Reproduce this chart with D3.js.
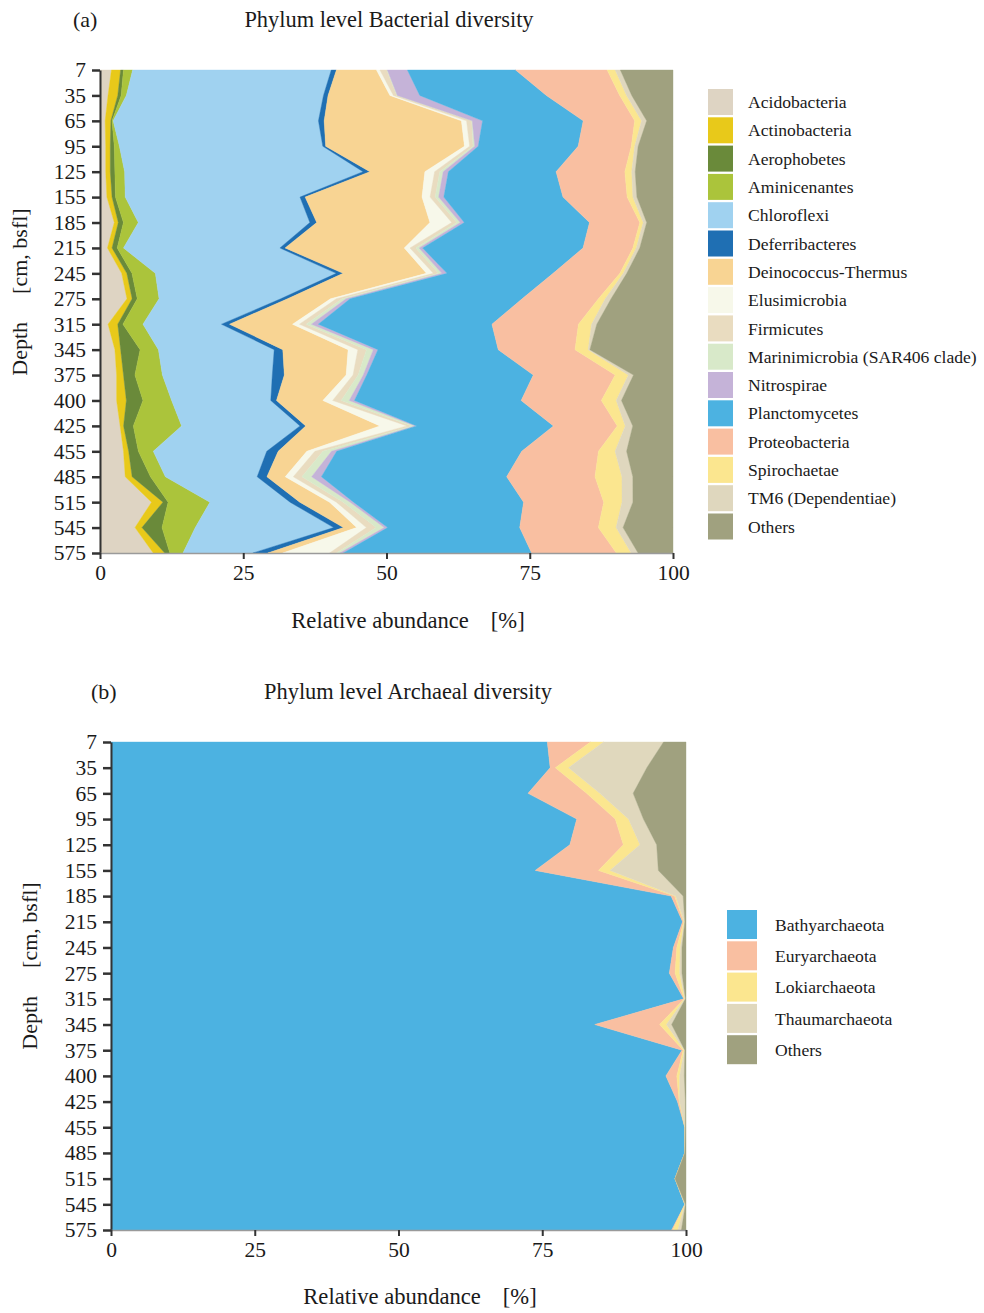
<!DOCTYPE html>
<html>
<head>
<meta charset="utf-8">
<script src="https://cdn.jsdelivr.net/npm/d3@7"></script>
<style>
  html, body { margin: 0; padding: 0; background: #ffffff; }
  svg { display: block; font-family: "Liberation Serif", "Times New Roman", serif; }
</style>
</head>
<body>
<svg id="fig" width="984" height="1313"></svg>
<script>
// Sampling depths (cm below seafloor)
const depths = ["7","35","65","95","125","155","185","215","245","275","315","345","375","400","425","455","485","515","545","575"];
const xTicks = [0, 25, 50, 75, 100];

// Bacterial phyla, relative abundance (%) per depth
const acidobacteria   = [2.0,1.4,0.9,1.0,1.0,1.2,2.5,1.3,3.8,4.7,1.4,2.6,2.9,2.9,3.5,4.1,4.4,9.0,6.1,9.3];
const actinobacteria  = [1.6,1.7,1.0,0.8,0.8,0.9,0.7,0.8,0.9,0.9,1.7,1.0,1.2,1.7,0.6,0.9,1.2,2.0,1.2,2.0];
const aerophobetes    = [0.5,0.6,0.2,0.7,0.8,0.6,0.9,0.9,0.9,0.9,0.9,3.4,2.0,2.9,1.7,1.7,3.2,0.9,3.5,0.9];
const aminicenantes   = [1.6,0.9,0.2,0.9,1.7,1.7,2.6,1.1,4.1,3.8,3.5,3.2,4.8,5.0,8.4,2.6,2.6,7.3,5.8,2.3];
const chloroflexi     = [34.7,34.4,35.9,35.6,41.6,30.5,30.0,27.3,31.7,21.2,13.7,20.2,19.2,17.3,20.6,19.8,16.0,14.0,24.1,12.2];
const deferribacteres = [0.9,0.8,1.0,0.5,1.2,0.9,1.2,0.9,1.2,1.2,1.4,1.5,2.1,1.0,1.0,2.0,1.7,1.7,1.7,2.6];
const deinococcus     = [7.0,10.8,24.0,24.3,9.6,20.4,19.8,20.8,14.6,7.5,11.0,11.4,10.8,8.1,12.9,5.0,3.2,5.2,2.3,2.6];
const elusimicrobia   = [0.6,0.6,0.9,0.9,1.7,1.4,3.8,1.0,1.2,1.0,1.2,1.7,1.2,1.7,4.7,1.4,1.4,1.2,1.7,8.2];
const firmicutes      = [1.2,0.6,0.9,0.6,0.9,0.9,0.9,1.0,0.9,1.0,1.2,1.5,0.9,1.5,0.9,1.4,1.5,1.2,1.7,1.2];
const marinimicrobia  = [0.1,0.1,0.1,0.3,0.6,0.6,0.6,0.6,0.6,0.7,0.9,1.2,0.9,1.4,0.5,1.5,1.7,1.2,1.4,0.6];
const nitrospirae     = [3.5,3.9,1.8,0.6,0.9,0.9,0.7,0.6,0.9,0.7,1.2,0.8,0.6,0.9,0.3,0.9,1.7,0.6,0.6,0.6];
const planctomycetes  = [18.9,22.1,17.6,17.5,18.8,20.8,21.9,28.0,18.6,30.0,30.3,21.0,29.1,29.1,23.8,32.3,32.3,29.7,23.0,32.9];
const proteobacteria  = [16.0,12.8,9.0,9.3,12.0,11.2,8.8,8.7,11.7,13.3,15.1,13.4,14.3,14.0,11.1,13.4,15.4,14.0,13.7,14.8];
const spirochaetae    = [1.4,1.2,1.2,0.6,1.2,1.0,0.6,0.6,0.6,1.2,2.3,2.3,2.3,2.6,1.4,2.9,4.7,3.2,3.1,2.6];
const tm6             = [0.9,0.9,0.9,0.6,0.6,0.7,0.6,0.6,0.6,1.0,0.9,0.3,0.9,0.9,1.3,2.0,1.9,1.9,1.2,1.2];
const bacOthers       = [9.2,7.2,4.6,6.1,6.6,6.3,4.6,5.8,8.1,10.8,13.3,14.5,6.9,9.0,7.0,8.1,7.0,7.0,8.7,6.1];

const bacNames = ["Acidobacteria","Actinobacteria","Aerophobetes","Aminicenantes","Chloroflexi","Deferribacteres",
  "Deinococcus-Thermus","Elusimicrobia","Firmicutes","Marinimicrobia (SAR406 clade)","Nitrospirae",
  "Planctomycetes","Proteobacteria","Spirochaetae","TM6 (Dependentiae)","Others"];
const bacColors = ["#ded4c3","#e8c91a","#6a8a3a","#abc43b","#a0d2f0","#1f6fb3","#f8d493","#f7f8ea",
  "#e9dcc0","#d8e9c9","#c5b3d8","#4cb2e1","#f9bfa1","#fbe68f","#dfd7be","#a0a17f"];
const bacValues = [acidobacteria, actinobacteria, aerophobetes, aminicenantes, chloroflexi, deferribacteres,
  deinococcus, elusimicrobia, firmicutes, marinimicrobia, nitrospirae, planctomycetes, proteobacteria,
  spirochaetae, tm6, bacOthers];

// Archaeal phyla, relative abundance (%) per depth
const bathyarchaeota = [75.8,76.3,72.6,81.0,79.8,73.7,97.5,99.4,97.8,97.0,99.6,84.2,99.3,96.5,98.6,99.8,99.8,98.1,99.8,97.5];
const euryarchaeota  = [7.5,0.9,10.2,6.7,9.3,11.0,0.6,0.2,0.6,1.0,0.1,11.3,0.2,1.9,0.3,0.0,0.0,0.0,0.0,0.2];
const lokiarchaeota  = [2.3,2.3,2.3,2.3,2.9,2.0,0.2,0.1,0.6,0.8,0.1,1.2,0.2,0.5,0.1,0.0,0.0,0.0,0.0,0.9];
const thaumarchaeota = [10.4,13.6,5.8,2.6,2.9,8.4,1.3,0.1,0.3,0.4,0.1,0.9,0.1,0.8,1.0,0.1,0.0,0.0,0.1,0.6];
const arcOthers      = [3.9,6.8,9.2,7.4,5.1,4.8,0.5,0.2,0.7,0.7,0.1,2.5,0.2,0.3,0.1,0.1,0.2,1.9,0.1,0.8];

const arcNames = ["Bathyarchaeota","Euryarchaeota","Lokiarchaeota","Thaumarchaeota","Others"];
const arcColors = ["#4cb2e1","#f9bfa1","#fbe68f","#e0d8bd","#a0a17f"];
const arcValues = [bathyarchaeota, euryarchaeota, lokiarchaeota, thaumarchaeota, arcOthers];

const svg = d3.select("#fig");
const ink = "#1a1a1a";

function drawPanel(opt) {
  const g = svg.append("g");
  const keys = opt.names.map((_, i) => "s" + i);
  const rows = depths.map((d, j) => {
    const r = { depth: d };
    opt.values.forEach((arr, i) => { r["s" + i] = arr[j]; });
    return r;
  });
  const series = d3.stack().keys(keys).offset(d3.stackOffsetExpand)(rows);

  const x = d3.scaleLinear().domain([0, 1]).range([opt.left, opt.right]);
  const y = d3.scalePoint().domain(depths).range([opt.top, opt.bottom]);
  const color = d3.scaleOrdinal().domain(keys).range(opt.colors);

  const area = d3.area()
    .y(d => y(d.data.depth))
    .x0(d => x(d[0]))
    .x1(d => x(d[1]))
    .curve(d3.curveLinear);

  g.append("g").selectAll("path")
    .data(series)
    .join("path")
    .attr("d", area)
    .attr("fill", s => color(s.key))
    .attr("stroke", s => color(s.key))
    .attr("stroke-width", 0.4);

  // depth axis
  const yAxis = g.append("g")
    .attr("transform", `translate(${opt.left},0)`)
    .call(d3.axisLeft(y).tickSize(8).tickSizeOuter(0).tickPadding(6));
  yAxis.select(".domain").attr("stroke", "#333").attr("stroke-width", 2);
  yAxis.selectAll(".tick line").attr("stroke", "#333").attr("stroke-width", 2.5);
  yAxis.selectAll(".tick text")
    .attr("fill", ink)
    .style("font-family", "Liberation Serif, serif")
    .style("font-size", "21.5px");

  // abundance axis
  const xAxis = g.append("g")
    .attr("transform", `translate(0,${opt.bottom})`)
    .call(d3.axisBottom(x).tickValues(xTicks.map(v => v / 100))
      .tickFormat(v => Math.round(v * 100)).tickSize(6).tickSizeOuter(0).tickPadding(6));
  xAxis.select(".domain").attr("stroke", "#9a9a9a").attr("stroke-width", 1.5);
  xAxis.selectAll(".tick line").attr("stroke", "#333").attr("stroke-width", 2);
  xAxis.selectAll(".tick text")
    .attr("fill", ink)
    .style("font-family", "Liberation Serif, serif")
    .style("font-size", "21.5px");

  // panel letter and title
  g.append("text").attr("x", opt.letterX).attr("y", opt.titleY)
    .attr("fill", ink).style("font-size", "22px").text(opt.letter);
  g.append("text").attr("x", opt.titleX).attr("y", opt.titleY)
    .attr("text-anchor", "middle").attr("fill", ink).style("font-size", "22.4px").text(opt.title);

  // axis titles
  const xl = g.append("text").attr("x", opt.xLabelX).attr("y", opt.xLabelY)
    .attr("text-anchor", "middle").attr("fill", ink).style("font-size", "22.6px");
  xl.append("tspan").text("Relative abundance");
  xl.append("tspan").attr("dx", 22).text("[%]");

  const yl = g.append("text")
    .attr("transform", `translate(${opt.yLabelX},${opt.yLabelY}) rotate(-90)`)
    .attr("text-anchor", "middle").attr("fill", ink).style("font-size", "22px");
  yl.append("tspan").text("Depth");
  yl.append("tspan").attr("dx", 28).text("[cm, bsfl]");

  // legend
  const lg = g.append("g");
  opt.names.forEach((name, i) => {
    const yy = opt.legTop + i * opt.legStep;
    lg.append("rect").attr("x", opt.legX).attr("y", yy)
      .attr("width", opt.swW).attr("height", opt.swH).attr("fill", opt.colors[i]);
    lg.append("text").attr("x", opt.legTextX).attr("y", yy + opt.swH / 2)
      .attr("dy", "0.35em").attr("fill", ink).style("font-size", opt.legFont)
      .text(name);
  });
}

drawPanel({
  names: bacNames, colors: bacColors, values: bacValues,
  left: 100, right: 673, top: 70, bottom: 553,
  letter: "(a)", letterX: 73, title: "Phylum level Bacterial diversity", titleX: 389, titleY: 27,
  xLabelX: 408, xLabelY: 628, yLabelX: 27, yLabelY: 292,
  legX: 708, legTextX: 748, legTop: 89, legStep: 28.3, swW: 25, swH: 26, legFont: "17.6px"
});

drawPanel({
  names: arcNames, colors: arcColors, values: arcValues,
  left: 111, right: 686, top: 742, bottom: 1230,
  letter: "(b)", letterX: 91, title: "Phylum level Archaeal diversity", titleX: 408, titleY: 699,
  xLabelX: 420, xLabelY: 1304, yLabelX: 37, yLabelY: 966,
  legX: 727, legTextX: 775, legTop: 910, legStep: 31.3, swW: 30, swH: 29, legFont: "17.6px"
});
</script>
</body>
</html>
